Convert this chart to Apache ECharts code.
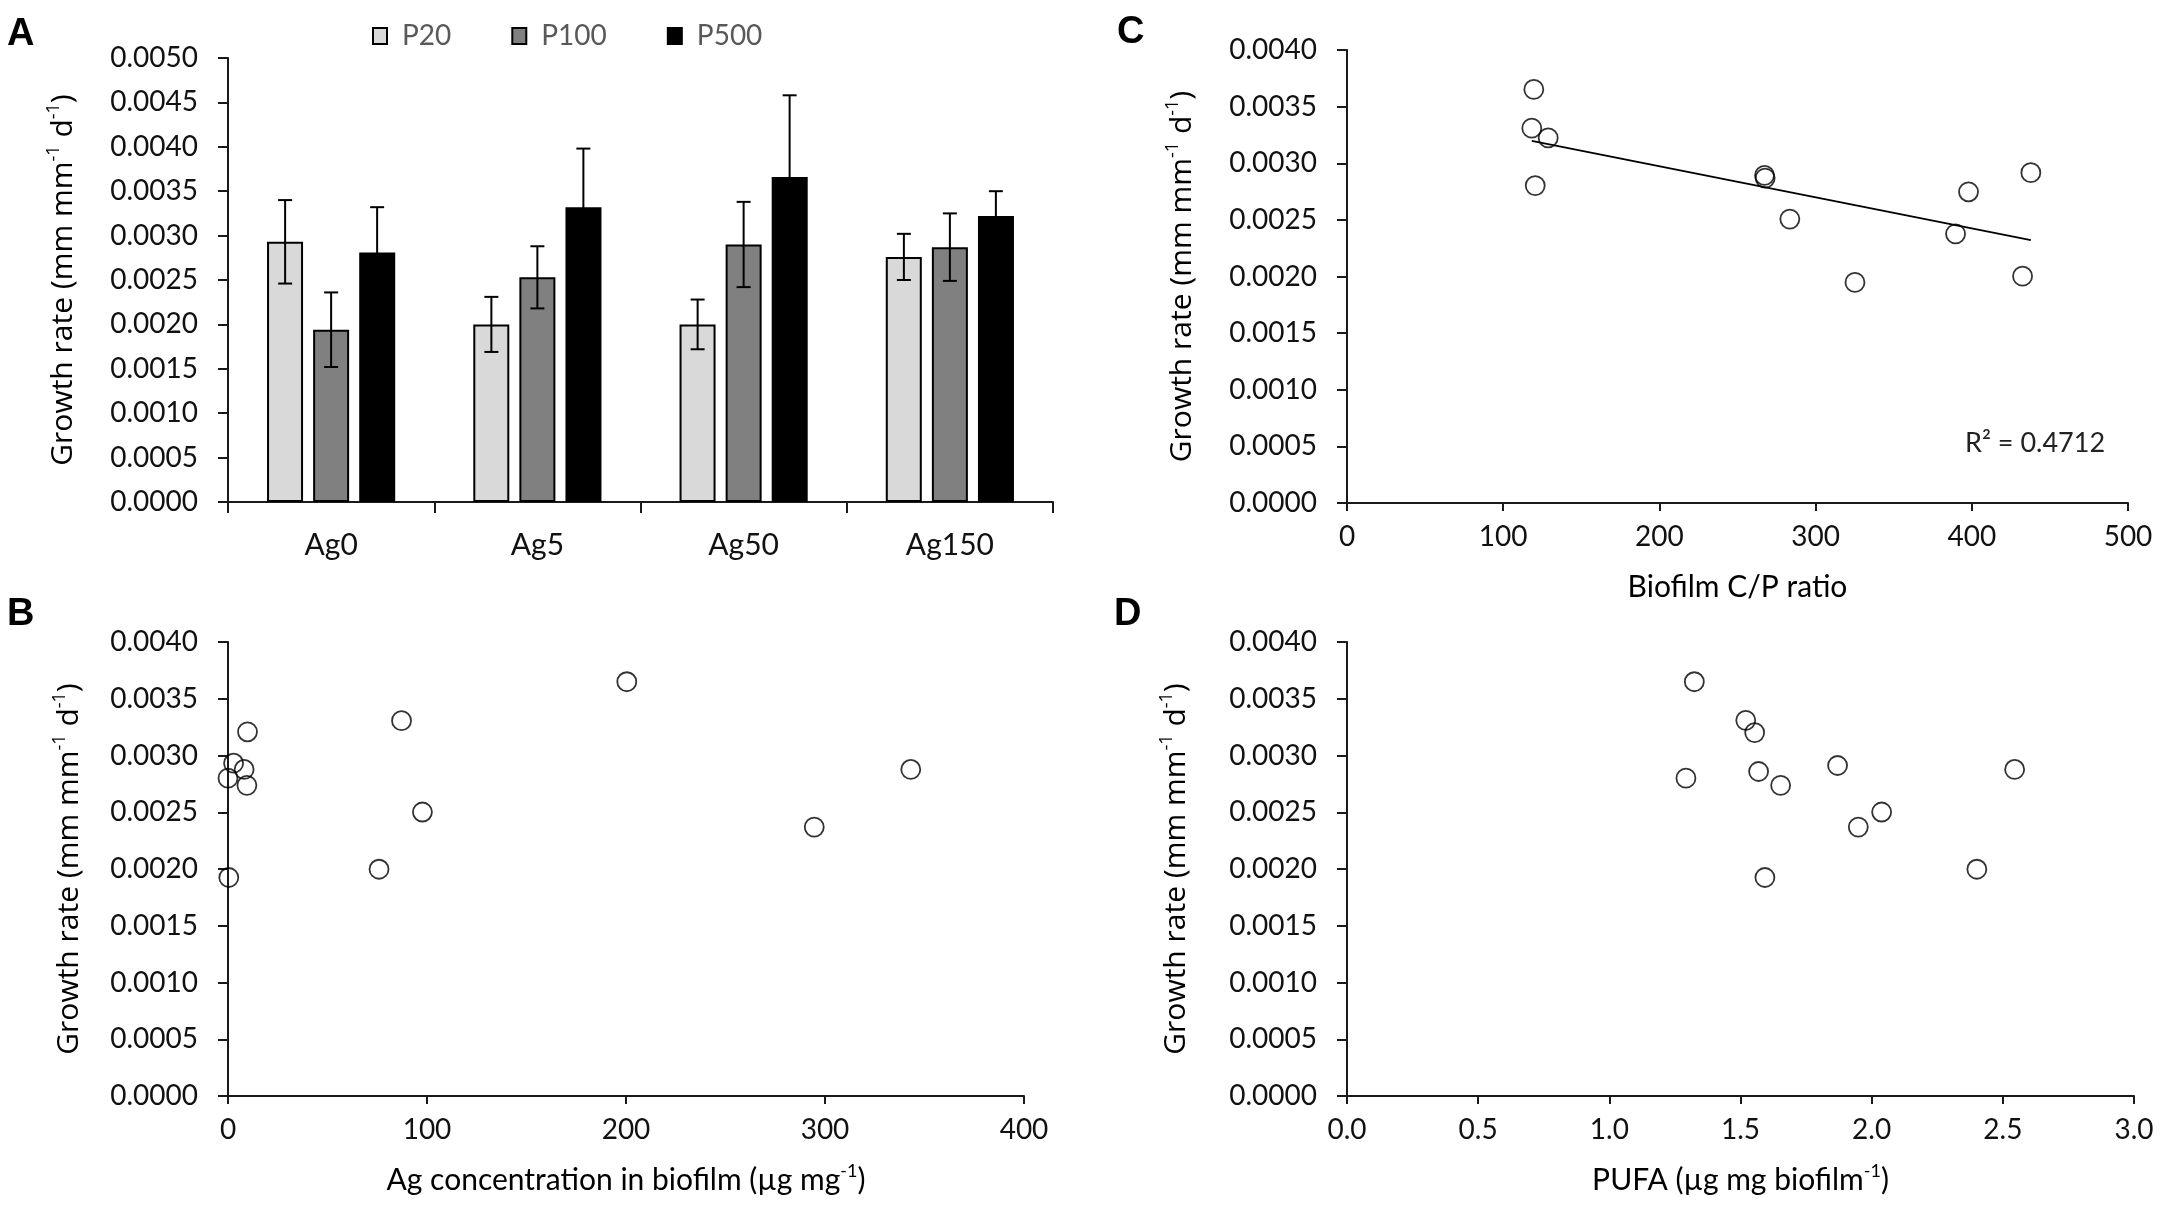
<!DOCTYPE html>
<html>
<head>
<meta charset="utf-8">
<script src="https://cdn.jsdelivr.net/npm/echarts@6/dist/echarts.min.js"></script>
<style>
html,body{margin:0;padding:0;background:#fff;}
#chart{width:2178px;height:1219px;}
</style>
</head>
<body>
<div id="chart"></div>
<script>
// ---------- Panel A data ----------
const categories = ['Ag0', 'Ag5', 'Ag50', 'Ag150'];
const p20Mean  = [0.00293, 0.00200, 0.00200, 0.00276];
const p20Err   = [0.00047, 0.00031, 0.00028, 0.00026];
const p100Mean = [0.00194, 0.00253, 0.00290, 0.00287];
const p100Err  = [0.00042, 0.00035, 0.00048, 0.00038];
const p500Mean = [0.00281, 0.00332, 0.00366, 0.00322];
const p500Err  = [0.00051, 0.00066, 0.00092, 0.00028];
const legendNames = ['P20', 'P100', 'P500'];

// ---------- Panel B data ----------
const agConc  = [200.4, 87.2, 9.8, 2.8, 8.1, 0, 9.5, 97.7, 294.6, 75.9, 0.4, 343.1];
const growthB = [0.00365, 0.003307, 0.003209, 0.002932, 0.002877, 0.00280, 0.002737, 0.002502, 0.002369, 0.001998, 0.001925, 0.002877];

// ---------- Panel C data ----------
const cpRatio = [119.6, 118.3, 128.8, 120.5, 267.3, 267.7, 283.5, 325.2, 389.6, 397.9, 437.8, 432.5];
const growthC = [0.003652, 0.00331, 0.003224, 0.002803, 0.002893, 0.002869, 0.002507, 0.001948, 0.002376, 0.002748, 0.002917, 0.002003];
const r2Label = 'R² = 0.4712';

// ---------- Panel D data ----------
const pufa    = [1.324, 1.520, 1.554, 1.292, 1.569, 1.653, 1.870, 2.545, 2.038, 1.949, 1.593, 2.401];
const growthD = [0.00365, 0.00331, 0.003202, 0.0028, 0.002859, 0.002737, 0.002912, 0.002877, 0.002502, 0.002369, 0.001925, 0.001998];

// ---------- tick labels ----------
const yTicksA = { min: 0, max: 0.005, interval: 0.0005 };
const yTicksBCD = { min: 0, max: 0.004, interval: 0.0005 };
const xTicksB = { min: 0, max: 400, interval: 100 };
const xTicksC = { min: 0, max: 500, interval: 100 };
const xTicksD = { min: 0, max: 3, interval: 0.5 };

// least-squares trend line for panel C (from the data)
function linfit(xs, ys) {
  const n = xs.length;
  const mx = xs.reduce((a, b) => a + b, 0) / n;
  const my = ys.reduce((a, b) => a + b, 0) / n;
  let sxy = 0, sxx = 0;
  for (let i = 0; i < n; i++) { sxy += (xs[i] - mx) * (ys[i] - my); sxx += (xs[i] - mx) ** 2; }
  const b = sxy / sxx;
  return { a: my - b * mx, b };
}
const fit = linfit(cpRatio, growthC);
const xMinC = Math.min(...cpRatio), xMaxC = Math.max(...cpRatio);
const trendData = [[xMinC, fit.a + fit.b * xMinC], [xMaxC, fit.a + fit.b * xMaxC]];

const zip = (a, b) => a.map((v, i) => [v, b[i]]);

const FONT = 'Lato';
const TITLE_FONT = 'Open Sans';
const AX = '#1a1a1a';

const yName = '{n|Growth rate (mm mm}{s|-1}{n| d}{s|-1}{n|)}';
const yNameStyle = {
  color: '#000',
  rich: {
    n: { fontFamily: TITLE_FONT, fontSize: 30, color: '#000', lineHeight: 37 },
    s: { fontFamily: TITLE_FONT, fontSize: 18, color: '#000', verticalAlign: 'top', lineHeight: 37 }
  }
};

function yAxisCfg(grid, ticks, gap) {
  return Object.assign({
    gridIndex: grid, type: 'value',
    name: yName, nameLocation: 'middle', nameGap: gap, nameRotate: 90,
    nameTextStyle: yNameStyle,
    axisLine: { show: true, lineStyle: { color: AX, width: 2 } },
    axisTick: { show: true, length: 10, lineStyle: { color: AX, width: 2 } },
    axisLabel: { margin: 30, fontFamily: FONT, fontSize: 28, color: '#111', formatter: v => v.toFixed(4) },
    splitLine: { show: false }
  }, ticks);
}

function xValueAxis(grid, ticks, name, digits) {
  return Object.assign({
    gridIndex: grid, type: 'value',
    name: name, nameLocation: 'middle', nameGap: 66,
    nameTextStyle: {
      fontFamily: FONT, fontSize: 30, color: '#000',
      rich: {
        n: { fontFamily: FONT, fontSize: 30, color: '#000', lineHeight: 36 },
        s: { fontFamily: FONT, fontSize: 18, color: '#000', verticalAlign: 'top', lineHeight: 36 }
      }
    },
    axisLine: { show: true, onZero: false, lineStyle: { color: AX, width: 2 } },
    axisTick: { show: true, length: 8, lineStyle: { color: AX, width: 2 } },
    axisLabel: { margin: 20, fontFamily: FONT, fontSize: 28, color: '#111', formatter: v => v.toFixed(digits) },
    splitLine: { show: false }
  }, ticks);
}

function errSeries(name, means, errs, slot) {
  return {
    type: 'custom', name: name, xAxisIndex: 0, yAxisIndex: 0, z: 5,
    data: means.map((m, i) => [i, m - errs[i], m + errs[i]]),
    renderItem: function (params, api) {
      const off = (slot - 1) * 46;
      const lo = api.coord([api.value(0), api.value(1)]);
      const hi = api.coord([api.value(0), api.value(2)]);
      const x = lo[0] + off;
      const cap = 7;
      const st = { stroke: '#000', lineWidth: 2 };
      return {
        type: 'group',
        children: [
          { type: 'line', shape: { x1: x, y1: lo[1], x2: x, y2: hi[1] }, style: st },
          { type: 'line', shape: { x1: x - cap, y1: hi[1], x2: x + cap, y2: hi[1] }, style: st },
          { type: 'line', shape: { x1: x - cap, y1: lo[1], x2: x + cap, y2: lo[1] }, style: st }
        ]
      };
    }
  };
}

const scatterStyle = {
  type: 'scatter', symbol: 'circle', symbolSize: 19, clip: false, z: 4,
  itemStyle: { color: 'rgba(255,255,255,0)', borderColor: '#000', borderWidth: 1.8 },
  emphasis: { disabled: true }
};

const barBase = { type: 'bar', xAxisIndex: 0, yAxisIndex: 0, barWidth: 36, barGap: '28%' };

const option = {
  animation: false,
  backgroundColor: '#fff',
  legend: {
    data: legendNames, left: 372, top: 22, padding: 0,
    itemWidth: 14, itemHeight: 16, itemGap: 60, icon: 'rect',
    textStyle: { fontFamily: FONT, fontSize: 28, color: '#595959', padding: [0, 0, 0, 10] }
  },
  grid: [
    { left: 228, top: 58, width: 825, height: 444 },
    { left: 228, top: 642, width: 796, height: 454 },
    { left: 1347, top: 50, width: 781, height: 453 },
    { left: 1347, top: 642, width: 787, height: 454 }
  ],
  xAxis: [
    {
      gridIndex: 0, type: 'category', data: categories,
      axisLine: { show: true, lineStyle: { color: AX, width: 2 } },
      axisTick: { show: true, length: 11, lineStyle: { color: AX, width: 2 } },
      axisLabel: { margin: 28, fontFamily: FONT, fontSize: 30, color: '#111' },
      splitLine: { show: false }
    },
    xValueAxis(1, xTicksB, '{n|Ag concentration in biofilm (µg mg}{s|-1}{n|)}', 0),
    xValueAxis(2, xTicksC, '{n|Biofilm C/P ratio}', 0),
    xValueAxis(3, xTicksD, '{n|PUFA (µg mg biofilm}{s|-1}{n|)}', 1)
  ],
  yAxis: [
    yAxisCfg(0, yTicksA, 146),
    yAxisCfg(1, yTicksBCD, 140),
    yAxisCfg(2, yTicksBCD, 146),
    yAxisCfg(3, yTicksBCD, 152)
  ],
  series: [
    Object.assign({}, barBase, { name: 'P20', data: p20Mean, itemStyle: { color: '#d9d9d9', borderColor: '#000', borderWidth: 2 } }),
    Object.assign({}, barBase, { name: 'P100', data: p100Mean, itemStyle: { color: '#808080', borderColor: '#000', borderWidth: 2 } }),
    Object.assign({}, barBase, { name: 'P500', data: p500Mean, itemStyle: { color: '#000', borderColor: '#000', borderWidth: 2 } }),
    errSeries('errP20', p20Mean, p20Err, 0),
    errSeries('errP100', p100Mean, p100Err, 1),
    errSeries('errP500', p500Mean, p500Err, 2),
    Object.assign({}, scatterStyle, { name: 'B', xAxisIndex: 1, yAxisIndex: 1, data: zip(agConc, growthB) }),
    Object.assign({}, scatterStyle, { name: 'C', xAxisIndex: 2, yAxisIndex: 2, data: zip(cpRatio, growthC) }),
    {
      type: 'line', name: 'trend', xAxisIndex: 2, yAxisIndex: 2, data: trendData,
      symbol: 'none', lineStyle: { color: '#000', width: 1.8 }, z: 3, silent: true
    },
    Object.assign({}, scatterStyle, { name: 'D', xAxisIndex: 3, yAxisIndex: 3, data: zip(pufa, growthD) })
  ],
  graphic: [
    { type: 'text', left: 7, top: 16, style: { text: 'A', fontFamily: 'Liberation Sans', fontWeight: 'bold', fontSize: 38, fill: '#000' } },
    { type: 'text', left: 7, top: 596, style: { text: 'B', fontFamily: 'Liberation Sans', fontWeight: 'bold', fontSize: 38, fill: '#000' } },
    { type: 'text', left: 1117, top: 14, style: { text: 'C', fontFamily: 'Liberation Sans', fontWeight: 'bold', fontSize: 38, fill: '#000' } },
    { type: 'text', left: 1114, top: 596, style: { text: 'D', fontFamily: 'Liberation Sans', fontWeight: 'bold', fontSize: 38, fill: '#000' } },
    { type: 'text', left: 1965, top: 430, style: { text: r2Label, fontFamily: FONT, fontSize: 27, fill: '#222' } }
  ]
};

const chart = echarts.init(document.getElementById('chart'));
chart.setOption(option);
</script>
</body>
</html>
